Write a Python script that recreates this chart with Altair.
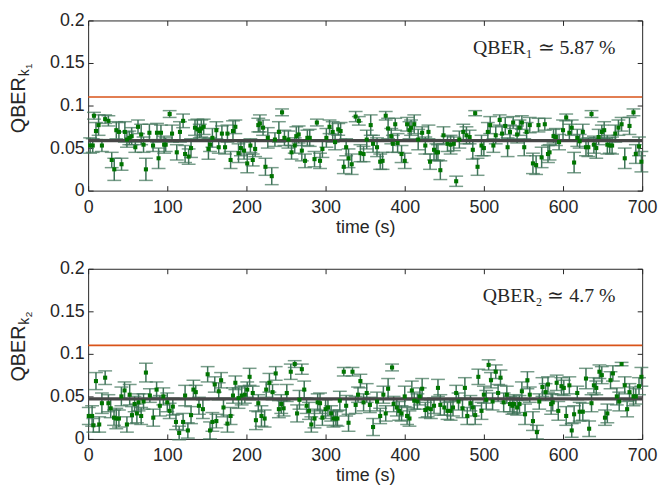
import altair as alt
import pandas as pd

# ---------------- data ----------------
t1 = [2.5, 5.8, 7.4, 9.9, 13.2, 17.4, 21.5, 25.6, 29.8, 33,
      35.6, 38.9, 42.2, 46.4, 49, 52, 55, 59.6, 63, 67,
      70, 73, 77.4, 82, 87, 89, 92, 96, 98, 103,
      106, 112, 116, 120, 122.5, 127, 130, 135, 138, 141,
      143, 146, 152, 154, 157, 162, 165, 169, 173, 176,
      180, 183, 186, 190, 193, 197, 201, 205, 208, 211,
      215, 217, 221, 224, 227, 232, 236, 241, 245, 248,
      253, 257, 261, 263, 266, 270, 274, 277, 280, 286,
      289, 293, 296, 301, 305, 309, 312, 316, 319, 323,
      326, 329, 333, 338, 342, 344, 348, 352, 357, 360,
      365, 369, 372, 376, 379, 383, 385, 388, 391, 396,
      400, 403, 406, 408, 412, 417, 422, 426, 430, 432,
      437, 440, 442, 445, 449, 454, 458, 462, 465, 469,
      474, 478, 482, 486, 489, 492, 497, 500, 505, 508,
      512, 515, 520, 523, 527, 530, 533, 537, 542, 545,
      548, 551, 554, 558, 562, 566, 569, 573, 577, 581,
      583, 588, 591, 595, 600, 604, 608, 611, 614, 618,
      621, 625, 629, 632, 636, 639, 642, 645, 649, 652,
      656, 659, 662, 666, 670, 674, 678, 684, 689, 692,
      696, 699]
q1 = [.053, .053, .088, .070, .077, .053, .084, .082, .036, .025,
      .071, .069, .031, .069, .060, .062, .064, .051, .075, .066,
      .054, .025, .068, .053, .068, .038, .068, .054, .054, .090,
      .067, .045, .069, .082, .043, .040, .050, .074, .072, .070,
      .073, .075, .049, .054, .062, .071, .051, .067, .051, .067,
      .036, .070, .075, .044, .050, .047, .032, .053, .036, .049,
      .077, .079, .074, .028, .062, .017, .060, .069, .092, .062,
      .060, .045, .053, .064, .066, .047, .035, .062, .062, .037,
      .080, .035, .049, .062, .075, .069, .057, .072, .070, .028,
      .051, .038, .031, .087, .082, .044, .043, .060, .077, .055,
      .051, .034, .035, .088, .073, .064, .055, .078, .056, .043,
      .035, .078, .071, .074, .078, .060, .068, .053, .069, .034,
      .048, .045, .045, .024, .065, .055, .054, .055, .011, .060,
      .069, .065, .063, .048, .091, .028, .053, .050, .069, .077,
      .053, .065, .083, .067, .076, .051, .069, .080, .066, .074,
      .080, .051, .069, .077, .032, .030, .077, .039, .078, .043,
      .045, .064, .063, .057, .071, .086, .068, .074, .033, .062,
      .058, .069, .051, .051, .090, .054, .050, .063, .069, .071,
      .054, .053, .053, .067, .074, .078, .038, .076, .092, .043,
      .052, .034]
err1 = [9, 8, 4, 10, 12, 7, 5, 6, 9, 13,
        10, 11, 7, 12, 9, 8, 10, 6, 8, 12,
        9, 13, 10, 7, 11, 12, 9, 10, 8, 4,
        10, 9, 12, 8, 10, 9, 11, 9, 12, 8,
        10, 9, 12, 8, 11, 10, 7, 9, 8, 10,
        10, 12, 8, 11, 9, 10, 11, 8, 7, 9,
        8, 10, 9, 10, 12, 10, 8, 12, 4, 9,
        10, 8, 9, 11, 10, 12, 8, 9, 10, 9,
        4, 9, 10, 11, 8, 12, 9, 7, 10, 8,
        10, 11, 12, 6, 5, 10, 9, 11, 12, 10,
        11, 9, 10, 5, 12, 9, 10, 7, 11, 10,
        9, 8, 10, 9, 11, 12, 7, 10, 8, 9,
        12, 10, 9, 11, 10, 9, 11, 8, 6, 10,
        9, 10, 8, 11, 3, 10, 12, 9, 11, 10,
        8, 10, 6, 9, 10, 11, 8, 7, 10, 9,
        8, 10, 11, 9, 12, 11, 8, 12, 7, 10,
        9, 8, 10, 9, 12, 4, 10, 9, 12, 10,
        8, 9, 10, 11, 4, 10, 12, 9, 8, 10,
        11, 9, 10, 10, 9, 8, 12, 10, 4, 11,
        11, 12]

t2 = [0.8, 5, 6.6, 9.9, 14, 17.4, 21.5, 25.6, 28.5, 32.7,
      35.6, 38.9, 42, 46, 49, 52.5, 55.4, 58.7, 61.6, 63.7,
      67, 70, 73, 78, 82.3, 86.5, 90.6, 95, 100, 103,
      107, 111, 115, 120, 122.5, 126, 130, 133, 136, 140,
      145, 151, 154, 157, 160, 162, 165, 168, 171, 176,
      180, 183, 186, 190, 194, 198, 201, 204, 208, 212,
      215, 219, 223, 225, 229, 233, 237, 241, 244, 247,
      251, 256, 261, 264, 267, 270, 273, 276, 279, 282,
      286, 290, 293, 296, 300, 303, 307, 310, 313, 315,
      318, 323, 326, 329, 334, 338, 341, 344, 348, 352,
      356, 360, 365, 369, 373, 376, 379, 384, 386, 390,
      393, 396, 400, 403, 406, 409, 412, 416, 419, 422,
      426, 429, 433, 437, 442, 445, 450, 454, 458, 461,
      465, 468, 473, 476, 479, 483, 486, 489, 493, 497,
      500, 503, 506, 509, 511, 515, 518, 521, 525, 529,
      533, 536, 538, 542, 545, 548, 552, 555, 558, 562,
      567, 570, 574, 578, 581, 585, 587, 592, 594, 598,
      601, 604, 608, 611, 614, 618, 621, 625, 629, 633,
      636, 639, 642, 646, 649, 653, 656, 660, 663, 668,
      671, 674, 678, 681, 684, 689, 692, 696, 699]
q2 = [.027, .027, .016, .068, .017, .042, .072, .042, .036, .025,
      .024, .024, .050, .057, .017, .052, .028, .041, .030, .043,
      .027, .044, .078, .051, .025, .058, .039, .050, .043, .033,
      .038, .020, .007, .020, .051, .010, .028, .058, .055, .039,
      .035, .076, .010, .020, .064, .021, .056, .069, .037, .018,
      .027, .051, .066, .048, .051, .052, .058, .073, .054, .022,
      .042, .027, .024, .058, .066, .055, .077, .035, .041, .036,
      .054, .079, .088, .030, .046, .082, .058, .039, .033, .017,
      .024, .043, .042, .025, .035, .037, .030, .024, .024, .024,
      .045, .079, .039, .019, .079, .040, .052, .068, .043, .054,
      .040, .014, .044, .027, .052, .030, .059, .084, .041, .037,
      .033, .030, .050, .027, .024, .057, .045, .044, .050, .059,
      .034, .036, .035, .039, .060, .040, .037, .033, .033, .037,
      .054, .044, .036, .060, .027, .042, .037, .028, .073, .033,
      .052, .046, .087, .069, .044, .079, .054, .072, .043, .052,
      .041, .039, .041, .037, .041, .056, .029, .069, .052, .021,
      .008, .044, .061, .055, .064, .041, .043, .066, .033, .062,
      .060, .027, .063, .010, .029, .054, .032, .032, .071, .012,
      .042, .063, .060, .079, .075, .025, .030, .069, .077, .050,
      .044, .088, .063, .035, .055, .050, .050, .062, .073]
err2 = [10, 12, 8, 10, 9, 12, 8, 10, 11, 9,
        12, 10, 11, 10, 9, 12, 10, 9, 11, 10,
        10, 9, 11, 8, 10, 9, 12, 10, 11, 9,
        10, 9, 8, 10, 12, 9, 10, 11, 8, 10,
        11, 9, 10, 11, 9, 8, 10, 9, 11, 10,
        10, 9, 8, 12, 11, 10, 9, 10, 8, 11,
        10, 12, 10, 9, 11, 9, 8, 10, 11, 9,
        10, 9, 4, 10, 11, 6, 10, 9, 10, 9,
        11, 10, 12, 9, 11, 10, 9, 10, 8, 9,
        11, 5, 12, 10, 5, 10, 9, 8, 10, 11,
        9, 10, 11, 9, 10, 9, 12, 4, 9, 10,
        11, 9, 12, 10, 9, 11, 10, 9, 10, 12,
        9, 10, 11, 9, 10, 12, 9, 10, 11, 10,
        9, 10, 11, 12, 10, 9, 10, 11, 9, 10,
        10, 11, 6, 9, 10, 8, 10, 9, 11, 10,
        9, 10, 11, 9, 10, 11, 12, 10, 9, 11,
        8, 9, 11, 10, 9, 12, 10, 9, 11, 10,
        9, 11, 10, 8, 10, 8, 11, 10, 12, 9,
        10, 9, 8, 8, 10, 9, 11, 10, 9, 10,
        11, 2, 10, 9, 10, 11, 9, 10, 11]

mean1 = 0.0587
mean2 = 0.047
threshold = 0.11
x_ticks = [0, 100, 200, 300, 400, 500, 600, 700]
y_ticks = [0, 0.05, 0.1, 0.15, 0.2]
ann1 = "QBER\u2081 \u2243 5.87 %"
ann2 = "QBER\u2082 \u2243 4.7 %"
sub1 = "1"
sub2 = "2"

# ---------------- styling ----------------
W, H = 560, 172
FONT = "Liberation Sans"
TXT = "#262626"
EB = "#3f7459"
GREEN = "#007500"
ORANGE = "#D95319"
GRAY = "#474747"


def panel(t, q, err, mean, ann, sub):
    df = pd.DataFrame({"t": t, "q": q, "e": [v / 1000 for v in err]})
    df["lo"] = df["q"] - df["e"]
    df["hi"] = df["q"] + df["e"]
    xs = alt.Scale(domain=[0, 700], nice=False, zero=False)
    ys = alt.Scale(domain=[0, 0.2], nice=False, zero=False)
    base = alt.Chart(df)

    x_main = alt.X("t:Q", scale=xs, axis=alt.Axis(
        values=x_ticks, title="time (s)", domain=False, grid=False,
        tickSize=5, offset=-5, tickColor=TXT, tickWidth=1,
        labelPadding=8, labelFontSize=18, labelFont=FONT, labelColor=TXT,
        labelFlush=False, titleFontSize=18, titleFont=FONT,
        titleFontWeight="normal", titleColor=TXT, titlePadding=2))
    y_main = alt.Y("lo:Q", scale=ys, axis=alt.Axis(
        values=y_ticks, format=".2~f", title=None, domain=False, grid=False,
        tickSize=5, offset=-5, tickColor=TXT, tickWidth=1,
        labelPadding=4, labelFontSize=18, labelFont=FONT, labelColor=TXT))
    x_plain = alt.X("t:Q", scale=xs, axis=None)

    bars = base.mark_rule(color=EB, strokeWidth=1.5).encode(
        x=x_main, y=y_main, y2="hi:Q")
    cap_lo = base.mark_tick(color=EB, orient="horizontal", size=14,
                            thickness=1.5).encode(
        x=x_plain, y=alt.Y("lo:Q", scale=ys, axis=None))
    cap_hi = base.mark_tick(color=EB, orient="horizontal", size=14,
                            thickness=1.5).encode(
        x=x_plain, y=alt.Y("hi:Q", scale=ys, axis=None))
    thr = alt.Chart(pd.DataFrame({"v": [threshold]})).mark_rule(
        color=ORANGE, strokeWidth=1.6).encode(
        y=alt.Y("v:Q", scale=ys, axis=None))
    mean_rule = alt.Chart(pd.DataFrame({"v": [mean]})).mark_rule(
        color=GRAY, strokeWidth=3.2).encode(
        y=alt.Y("v:Q", scale=ys, axis=None))
    pts = base.mark_square(color=GREEN, size=17, opacity=1).encode(
        x=x_plain, y=alt.Y("q:Q", scale=ys, axis=None))
    frame_ticks = base.mark_point(opacity=0).encode(
        x=alt.X("t:Q", scale=xs, axis=alt.Axis(
            orient="top", values=x_ticks, labels=False, title=None,
            domain=False, grid=False, tickSize=5, offset=-5,
            tickColor=TXT, tickWidth=1)),
        y=alt.Y("q:Q", scale=ys, axis=alt.Axis(
            orient="right", values=y_ticks, labels=False, title=None,
            domain=False, grid=False, tickSize=5, offset=-5,
            tickColor=TXT, tickWidth=1)))

    one = pd.DataFrame({"a": [0]})
    ann_text = alt.Chart(one).mark_text(
        text=ann, font="Liberation Serif", fontSize=20, color=TXT,
        align="right", baseline="middle").encode(
        x=alt.value(W - 27), y=alt.value(28))
    yt_main = alt.Chart(one).mark_text(
        text="QBER", font=FONT, fontSize=20, color=TXT, angle=270,
        align="left", baseline="alphabetic").encode(
        x=alt.value(-64), y=alt.value(114))
    yt_k = alt.Chart(one).mark_text(
        text="k", font=FONT, fontSize=14, color=TXT, angle=270,
        align="left", baseline="alphabetic").encode(
        x=alt.value(-60), y=alt.value(56.5))
    yt_n = alt.Chart(one).mark_text(
        text=sub, font=FONT, fontSize=10, color=TXT, angle=270,
        align="left", baseline="alphabetic").encode(
        x=alt.value(-57), y=alt.value(49))

    return alt.layer(
        bars, cap_lo, cap_hi, thr, mean_rule, pts, frame_ticks,
        ann_text, yt_main, yt_k, yt_n
    ).resolve_axis(x="independent", y="independent").properties(
        width=W, height=H)


p1 = panel(t1, q1, err1, mean1, ann1, sub1)
p2 = panel(t2, q2, err2, mean2, ann2, sub2)

chart = alt.vconcat(p1, p2, spacing=22).properties(
    padding=0
).configure_view(stroke=TXT, strokeWidth=1)

chart.save("out.html", embed_options={"renderer": "svg", "actions": False})
